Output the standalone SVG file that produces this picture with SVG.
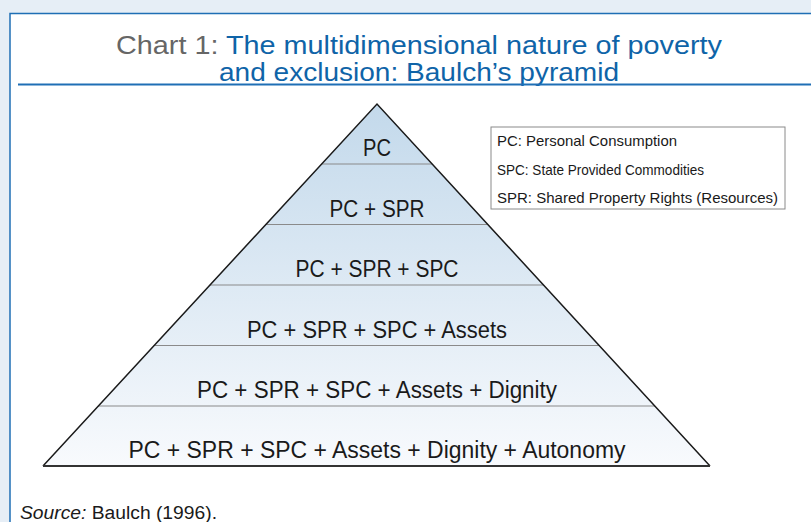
<svg xmlns="http://www.w3.org/2000/svg" width="811" height="522" viewBox="0 0 811 522">
<defs>
<linearGradient id="pg" x1="0" y1="104" x2="0" y2="466" gradientUnits="userSpaceOnUse">
<stop offset="0" stop-color="#c3d9eb"/>
<stop offset="1" stop-color="#f8fafd"/>
</linearGradient>
<clipPath id="tri"><polygon points="377,104 43,466 710,466"/></clipPath>
<style>
.t{font-family:"Liberation Sans",Arial,sans-serif}
.lbl{font-family:"Liberation Sans",Arial,sans-serif;font-size:23px;fill:#1a1a1a;text-anchor:middle}
.lg{font-family:"Liberation Sans",Arial,sans-serif;font-size:14.5px;fill:#1a1a1a}
.sep{stroke:#8a8a8a;stroke-width:1.2}
</style>
</defs>
<rect width="811" height="522" fill="#e6eef6"/>
<rect x="10" y="13.5" width="820" height="530" fill="#ffffff" stroke="#1f6fb5" stroke-width="1.5"/>
<g id="title">
<text class="t" x="419" y="54" font-size="26" text-anchor="middle" textLength="606" lengthAdjust="spacingAndGlyphs"><tspan fill="#666666">Chart 1: </tspan><tspan fill="#0f64a8">The multidimensional nature of poverty</tspan></text>
<text class="t" x="419" y="81" font-size="26" fill="#0f64a8" text-anchor="middle" textLength="400" lengthAdjust="spacingAndGlyphs">and exclusion: Baulch’s pyramid</text>
<line x1="18" y1="84.5" x2="811" y2="84.5" stroke="#1f6fb5" stroke-width="2"/>
</g>
<g id="pyramid">
<polygon points="377,104 43,466 710,466" fill="url(#pg)"/>
<g clip-path="url(#tri)">
<line class="sep" x1="0" y1="164" x2="811" y2="164"/>
<line class="sep" x1="0" y1="224.5" x2="811" y2="224.5"/>
<line class="sep" x1="0" y1="285" x2="811" y2="285"/>
<line class="sep" x1="0" y1="345.5" x2="811" y2="345.5"/>
<line class="sep" x1="0" y1="406" x2="811" y2="406"/>
</g>
<polyline points="43,466 377,104 710,466" fill="none" stroke="#1a1a1a" stroke-width="1.5" stroke-linejoin="miter"/>
<line x1="43" y1="466" x2="710" y2="466" stroke="#333333" stroke-width="2.2"/>
</g>
<g id="layer1"><text class="lbl" x="377" y="156" textLength="28" lengthAdjust="spacingAndGlyphs">PC</text></g>
<g id="layer2"><text class="lbl" x="377" y="217" textLength="95" lengthAdjust="spacingAndGlyphs">PC + SPR</text></g>
<g id="layer3"><text class="lbl" x="377" y="277" textLength="163" lengthAdjust="spacingAndGlyphs">PC + SPR + SPC</text></g>
<g id="layer4"><text class="lbl" x="377" y="338" textLength="260" lengthAdjust="spacingAndGlyphs">PC + SPR + SPC + Assets</text></g>
<g id="layer5"><text class="lbl" x="377" y="398" textLength="360" lengthAdjust="spacingAndGlyphs">PC + SPR + SPC + Assets + Dignity</text></g>
<g id="layer6"><text class="lbl" x="377" y="458" textLength="497" lengthAdjust="spacingAndGlyphs">PC + SPR + SPC + Assets + Dignity + Autonomy</text></g>
<g id="legend">
<rect x="491" y="127" width="294" height="82" fill="#ffffff" stroke="#8a8a8a" stroke-width="1"/>
<text class="lg" x="497" y="146" textLength="180" lengthAdjust="spacingAndGlyphs">PC: Personal Consumption</text>
<text class="lg" x="497" y="175" textLength="207" lengthAdjust="spacingAndGlyphs">SPC: State Provided Commodities</text>
<text class="lg" x="497" y="203" textLength="281" lengthAdjust="spacingAndGlyphs">SPR: Shared Property Rights (Resources)</text>
</g>
<g id="source">
<text class="t" x="20" y="519" font-size="18" fill="#1a1a1a" textLength="197" lengthAdjust="spacingAndGlyphs"><tspan font-style="italic">Source:</tspan> Baulch (1996).</text>
</g>
</svg>
